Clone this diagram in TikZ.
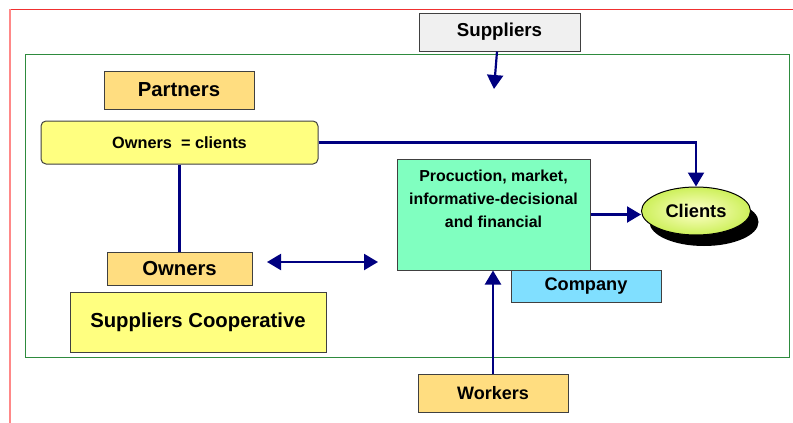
\documentclass[tikz,border=0pt]{standalone}
\usepackage{fontspec}
\setmainfont{Liberation Sans}
\usepackage{xcolor}
\usetikzlibrary{arrows.meta,positioning,shapes.geometric,shadows}
\definecolor{navyline}{HTML}{000080}
\definecolor{goldfill}{HTML}{FFDD80}
\definecolor{lemonfill}{HTML}{FFFF80}
\definecolor{mintfill}{HTML}{80FFC0}
\definecolor{skyfill}{HTML}{80DFFF}
\definecolor{greyfill}{HTML}{F0F0F0}
\definecolor{boxline}{HTML}{404040}
\definecolor{frameline}{HTML}{2E8B3E}
\definecolor{redline}{HTML}{F03030}
\definecolor{pinkline}{HTML}{FF8888}
\tikzset{
  obox/.style={draw=boxline,line width=1pt,inner sep=0pt,align=center,font=\fontsize{18.7}{22}\selectfont\bfseries},
  bigtext/.style={font=\fontsize{20.3}{24}\selectfont\bfseries},
  goldbox/.style={obox,fill=goldfill},
  lemonbox/.style={obox,fill=lemonfill},
  mintbox/.style={obox,fill=mintfill},
  skybox/.style={obox,fill=skyfill},
  greybox/.style={obox,fill=greyfill},
  conn/.style={-{Triangle[length=14pt,width=16pt]},line width=2.2pt,draw=navyline},
  bothconn/.style={{Triangle[length=14pt,width=16pt]}-{Triangle[length=14pt,width=16pt]},line width=2.2pt,draw=navyline},
  plainconn/.style={line width=2.2pt,draw=navyline}
}

\begin{document}
\begin{tikzpicture}[x=1pt,y=-1pt]
  \useasboundingbox (0,0) rectangle (793,423);
  \draw[redline,line width=1pt] (10,9) -- (793,9);
  \draw[pinkline,line width=1.2pt] (10,9) -- (10,423);
  \draw[frameline,line width=1pt] (25,54) rectangle (789,357);

  \node[greybox,minimum width=161pt,minimum height=38pt] (sup) at (499.5,32) {Suppliers};
  \node[goldbox,bigtext,minimum width=150pt,minimum height=38pt] (part) at (179,90) {Partners};
  \node[lemonbox,rounded corners=5pt,minimum width=277pt,minimum height=43pt,font=\fontsize{16.3}{19}\selectfont\bfseries] (oc) at (179.5,142.5) {Owners\ \ = clients};
  \node[goldbox,bigtext,minimum width=145pt,minimum height=33pt] (own) at (179.5,268.5) {Owners};
  \node[lemonbox,bigtext,minimum width=256pt,minimum height=60pt] (coop) at (198,322) {Suppliers Cooperative};
  \node[mintbox,minimum width=193pt,minimum height=111pt,
    label={[anchor=north,yshift=-8pt,align=center,font=\fontsize{15.9}{23}\selectfont\bfseries]north:{Procuction, market,\\informative-decisional\\and financial}}] (prod) at (493.5,214.5) {};
  \node[skybox,minimum width=150pt,minimum height=32pt,font=\fontsize{18.2}{22}\selectfont\bfseries] (comp) at (586,286) {Company};
  \node[goldbox,minimum width=150pt,minimum height=38pt,font=\fontsize{18}{22}\selectfont\bfseries] (work) at (493,393) {Workers};
  \node[ellipse,draw=black,line width=1pt,minimum width=109pt,minimum height=48pt,inner sep=0pt,
    shading=radial,inner color=yellow!20,outer color={rgb,255:red,205;green,240;blue,90},
    drop shadow={shadow xshift=8pt,shadow yshift=-11pt,fill=black,opacity=1},
    font=\fontsize{18.3}{22}\selectfont\bfseries] (cli) at (696,211) {Clients};

  \coordinate (supend) at (494,89);
  \coordinate (dl) at (267,262);
  \coordinate (dr) at (378,262);

  \draw[conn] ([xshift=-2.5pt]sup.south) -- (supend);
  \draw[conn] (oc.east) -| (cli.north);
  \draw[plainconn] (oc.south) -- (own.north);
  \draw[bothconn] (dl) -- (dr);
  \draw[conn] (prod.east) -- (prod.east -| cli.west);
  \draw[conn] (work.north) -- (work.north |- prod.south);
\end{tikzpicture}
\end{document}
